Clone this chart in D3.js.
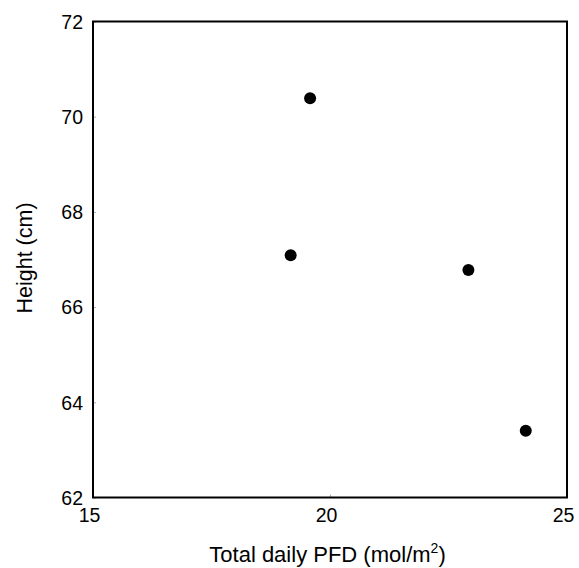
<!DOCTYPE html>
<html><head><meta charset="utf-8">
<script src="https://cdn.jsdelivr.net/npm/d3@7"></script>
<style>body{margin:0;background:#fff}text{font-family:"Liberation Sans",Arial,sans-serif;fill:#000}</style>
</head><body><svg id="c" width="579" height="568"></svg>
<script>
const pfd = [19.58, 19.17, 22.92, 24.13];
const height = [70.39, 67.09, 66.78, 63.40];
const xTicks = [15, 20, 25];
const yTicks = [62, 64, 66, 68, 70, 72];

const svg = d3.select("#c");
const m = {l:93, r:567, t:21.5, b:497.5};
const x = d3.scaleLinear().domain([15,25]).range([m.l, m.r]);
const y = d3.scaleLinear().domain([62,72]).range([m.b, m.t]);

const xa = svg.append("g").attr("transform",`translate(0,${m.b})`)
  .call(d3.axisBottom(x).tickValues(xTicks).tickSize(-3).tickPadding(10).tickFormat(d3.format("d")));
xa.select(".domain").remove();
xa.selectAll("line").attr("stroke","#aaa");
xa.selectAll("text").attr("font-size",19.5).attr("dx",-4).attr("dy","0.75em");

const ya = svg.append("g").attr("transform",`translate(${m.l},0)`)
  .call(d3.axisLeft(y).tickValues(yTicks).tickSize(-3).tickPadding(10).tickFormat(d3.format("d")));
ya.select(".domain").remove();
ya.selectAll("line").attr("stroke","#aaa");
ya.selectAll("text").attr("font-size",19.5).attr("dy","0.35em");

svg.append("rect").attr("x",m.l).attr("y",m.t).attr("width",m.r-m.l).attr("height",m.b-m.t)
  .attr("fill","none").attr("stroke","#000").attr("stroke-width",2);

svg.append("g").selectAll("circle").data(pfd).join("circle")
  .attr("cx",(d)=>x(d)).attr("cy",(d,i)=>y(height[i])).attr("r",6).attr("fill","#000");

const xt = svg.append("text").attr("x",327.5).attr("y",562).attr("text-anchor","middle").attr("font-size",22);
xt.append("tspan").text("Total daily PFD (mol/m");
xt.append("tspan").attr("font-size",14).attr("dy",-9).text("2");
xt.append("tspan").attr("dy",9).text(")");

svg.append("text").attr("transform",`translate(31.5,258) rotate(-90)`).attr("text-anchor","middle")
  .attr("font-size",21.5).text("Height (cm)");
</script></body></html>
